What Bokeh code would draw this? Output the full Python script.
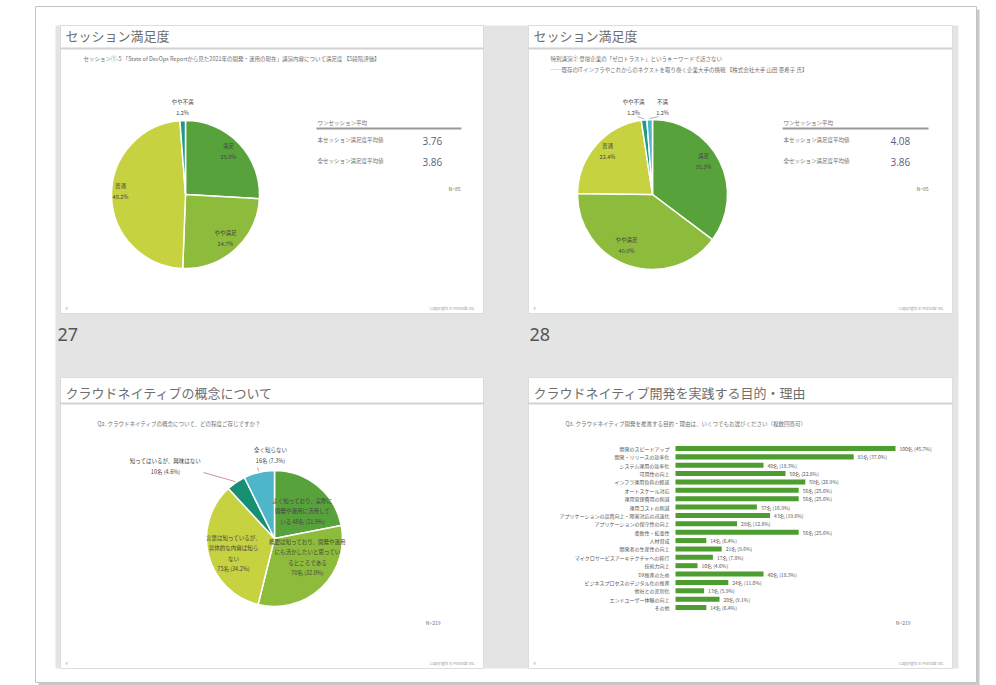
import math
from bokeh.plotting import figure
from bokeh.models import Range1d
from bokeh.core.properties import value
from bokeh.embed import file_html
from bokeh.resources import INLINE

# ---------------- data ----------------
s27_title = "セッション満足度"
s27_sub = ["セッション①-5 「State of DevOps Reportから見た2021年の開発・運用の現在」講演内容について満足度 【5段階評価】"]
s27_labels = ["満足", "やや満足", "普通", "やや不満"]
s27_pct = [25.9, 24.7, 48.2, 1.2]
s27_avg_labels = ["本セッション満足度平均値", "全セッション満足度平均値"]
s27_avg = ["3.76", "3.86"]
s27_n = 85

s28_title = "セッション満足度"
s28_sub = ["特別講演② 登壇企業の「ゼロトラスト」というキーワードで話さない",
           "──既存のITインフラやこれからのネクストを取り巻く企業大手の挑戦 【株式会社大手 山田 亜希子 氏】"]
s28_labels = ["満足", "やや満足", "普通", "やや不満", "不満"]
s28_pct = [35.3, 40.0, 22.4, 1.2, 1.2]
s28_avg_labels = ["本セッション満足度平均値", "全セッション満足度平均値"]
s28_avg = ["4.08", "3.86"]
s28_n = 85

c_title = "クラウドネイティブの概念について"
c_sub = ["Q2. クラウドネイティブの概念について、どの程度ご存じですか？"]
c_labels = ["よく知っており、実際に\n開発や運用に活用して\nいる",
            "概要は知っており、開発や運用\nにも活かしたいと思ってい\nるところである",
            "言葉は知っているが、\n具体的な内容は知ら\nない",
            "知ってはいるが、興味はない",
            "全く知らない"]
c_counts = [48, 70, 75, 10, 16]
c_pct = [21.9, 32.0, 34.2, 4.6, 7.3]
c_n = 219

r_title = "クラウドネイティブ開発を実践する目的・理由"
r_sub = ["Q3. クラウドネイティブ開発を推進する目的・理由は、いくつでもお選びください（複数回答可）"]
r_labels = ["開発のスピードアップ", "開発・リリースの効率化", "システム運用の効率化", "可用性の向上",
            "インフラ運用負荷の軽減", "オートスケール対応", "運用管理費用の削減", "運用コストの削減",
            "アプリケーションの品質向上・障害対応の迅速化", "アプリケーションの保守性の向上",
            "柔軟性・拡張性", "人材育成", "開発者の生産性の向上", "マイクロサービスアーキテクチャへの移行",
            "技術力向上", "DX推進のため", "ビジネスプロセスのデジタル化の推進", "他社との差別化",
            "エンドユーザー体験の向上", "その他"]
r_counts = [100, 81, 40, 50, 59, 56, 56, 37, 43, 28, 56, 14, 21, 17, 10, 40, 24, 13, 20, 14]
r_pct = [45.7, 37.0, 18.3, 22.8, 26.9, 25.6, 25.6, 16.9, 19.6, 12.8, 25.6, 6.4, 9.6, 7.8, 4.6, 18.3, 11.0, 5.9, 9.1, 6.4]
r_n = 219

# ---------------- style ----------------
JP = value("Noto Sans CJK JP")
DG, MG, YG, TE, LB = "#58a23c", "#8dbb3b", "#c6d23f", "#1f9a84", "#4fb5c8"
BAR = "#4d9d30"
GRAY_BG = "#e4e4e4"
TITLE_C = "#6e6e6e"
SMALL_C = "#707070"

W, H = 996, 685
p = figure(width=W, height=H, x_range=Range1d(0, W), y_range=Range1d(0, H),
           output_backend="svg", toolbar_location=None, min_border=0,
           x_axis_location=None, y_axis_location=None)
p.grid.visible = False
p.outline_line_color = None
p.background_fill_color = "white"
p.border_fill_color = "white"


def Y(py):
    return H - py


def box(l, r, t, b, fill, line=None, lw=1, alpha=1.0):
    p.quad(left=[l], right=[r], top=[Y(t)], bottom=[Y(b)], fill_color=fill,
           line_color=line, line_width=lw, fill_alpha=alpha)


def txt(x, y, s, size="6px", color=SMALL_C, align="left", font=JP, style="normal", lh=1.2):
    p.text(x=[x], y=[Y(y)], text=[s], text_font=font, text_font_size=size,
           text_color=color, text_align=align, text_baseline="middle",
           text_font_style=style, text_line_height=lh)


def seg(x0, y0, x1, y1, color="#999999", w=1):
    p.segment(x0=[x0], y0=[Y(y0)], x1=[x1], y1=[Y(y1)], line_color=color, line_width=w)


# outer frame with shadow
box(38, 979, 9, 685, "#c8c8c8", None)
box(35, 976, 6, 682, "white", "#c4c4c4", 1)
# gray sorter background
box(55, 958, 25, 668, GRAY_BG, None)

slides = {"tl": (60, 483, 25, 313), "tr": (528, 952, 25, 313),
          "bl": (60, 483, 377, 668), "br": (528, 952, 377, 668)}
sep_y = {"tl": 48, "tr": 48, "bl": 403, "br": 403}
for k, (l, r, t, b) in slides.items():
    box(l, r, t, b, "white", "#dddddd", 1)
    seg(l, sep_y[k], r, sep_y[k], "#d2d2d2", 2)

# slide titles
txt(65, 35, s27_title, "13px", TITLE_C)
txt(533, 35, s28_title, "13px", TITLE_C)
txt(65, 392, c_title, "13px", TITLE_C)
txt(533, 392, r_title, "13px", TITLE_C)

# subtitles
txt(83, 58, s27_sub[0], "5.5px", SMALL_C)
txt(550, 58, s28_sub[0], "5.5px", SMALL_C)
txt(550, 69, s28_sub[1], "5.5px", SMALL_C)
txt(97, 423, c_sub[0], "5.5px", SMALL_C)
txt(565, 423, r_sub[0], "5.5px", SMALL_C)

# slide numbers under the top row
txt(57, 334, "27", "18px", "#555555", font=value("Noto Sans"))
txt(529, 334, "28", "18px", "#555555", font=value("Noto Sans"))

# footers
for k, (l, r, t, b) in slides.items():
    txt(l + 5, b - 6, "#", "4px", "#999999")
    txt(r - 8, b - 6, "Copyright © Prelude Inc.", "4px", "#999999", align="right")


def pie(cx, cy, r, vals, colors):
    tot = float(sum(vals))
    starts, ends, mids = [], [], []
    acc = 0.0
    for v in vals:
        a0 = math.pi / 2 - 2 * math.pi * acc / tot
        acc += v
        a1 = math.pi / 2 - 2 * math.pi * acc / tot
        starts.append(a0)
        ends.append(a1)
        mids.append((a0 + a1) / 2)
    p.wedge(x=cx, y=Y(cy), radius=r, start_angle=starts, end_angle=ends,
            direction="clock", fill_color=colors, line_color="white", line_width=1.5)
    return mids


def edge(cx, cy, r, ang):
    return cx + r * math.cos(ang), cy - r * math.sin(ang)


# ---- slide 27 pie ----
cx, cy, R = 185, 194, 74
m = pie(cx, cy, R, s27_pct, [DG, MG, YG, TE])
off27 = [(43, -43), (40, 44), (-65, -3), (-3, -87)]
for lab, v, (dx, dy) in zip(s27_labels, s27_pct, off27):
    txt(cx + dx, cy + dy, f"{lab}\n{v:.1f}%", "5.5px", "#444444", align="center", lh=1.45)

# side table 27
txt(317, 122, "ワンセッション平均", "5.5px", SMALL_C)
seg(316, 128, 461, 128, "#9a9a9a", 2)
for i, (lab, v) in enumerate(zip(s27_avg_labels, s27_avg)):
    txt(317, 139 + 21 * i, lab, "5.5px", SMALL_C)
    txt(422, 140 + 21 * i, v, "10px", "#56627a", font=value("Open Sans"))
txt(460, 188, f"N={s27_n}", "5px", SMALL_C, align="right")

# ---- slide 28 pie ----
cx, cy, R = 652, 194, 75
m = pie(cx, cy, R, s28_pct, [DG, MG, YG, TE, LB])
off28 = [(51, -33), (-26, 51), (-45, -43), (-19, -87), (10, -87)]
for i, (lab, v, (dx, dy)) in enumerate(zip(s28_labels, s28_pct, off28)):
    txt(cx + dx, cy + dy, f"{lab}\n{v:.1f}%", "5.5px", "#444444", align="center", lh=1.45)
    if i >= 3:
        ex, ey = edge(cx, cy, R + 1, m[i])
        seg(cx + dx + (4 if i == 3 else -4), cy + dy + 9, ex, ey, "#888888", 0.7)

txt(783, 122, "ワンセッション平均", "5.5px", SMALL_C)
seg(782, 128, 928, 128, "#9a9a9a", 2)
for i, (lab, v) in enumerate(zip(s28_avg_labels, s28_avg)):
    txt(783, 139 + 21 * i, lab, "5.5px", SMALL_C)
    txt(890, 140 + 21 * i, v, "10px", "#56627a", font=value("Open Sans"))
txt(928, 188, f"N={s28_n}", "5px", SMALL_C, align="right")

# ---- concept pie ----
cx, cy, R = 274, 538, 68
m = pie(cx, cy, R, c_counts, [DG, MG, YG, "#168f72", LB])
offc = [(28, -27), (33, 19), (-41, 15), (-109, -72), (-4, -83)]
for i, (lab, n, v, (dx, dy)) in enumerate(zip(c_labels, c_counts, c_pct, offc)):
    if i == 0:
        s = f"{lab} {n}名 ({v:.1f}%)"
    else:
        s = f"{lab}\n{n}名 ({v:.1f}%)"
    txt(cx + dx, cy + dy, s, "5.5px", "#444444", align="center", lh=1.3)
ex, ey = edge(cx, cy, R + 1, m[3])
seg(cx - 71, cy - 66, ex, ey, "#c06070", 0.7)
ex, ey = edge(cx, cy, R + 1, m[4])
seg(cx - 17, cy - 71, ex, ey, "#888888", 0.7)
txt(440, 622, f"N={c_n}", "5px", SMALL_C, align="right")

# ---- reasons bar chart (own scales) ----
x0_px, px_per = 675, 2.2
top_px, step = 448, 8.37
nb = len(r_counts)
p.extra_x_ranges = {"bx": Range1d((0 - x0_px) / px_per, (W - x0_px) / px_per)}
p.extra_y_ranges = {"by": Range1d((nb - 1) + (H - (top_px + step * (nb - 1))) / step,
                                  -top_px / step)}
idx = list(range(nb))
p.hbar(y=idx, left=0, right=r_counts, height=0.6, fill_color=BAR, line_color=None,
       x_range_name="bx", y_range_name="by")
p.text(x=[0] * nb, y=idx, text=r_labels, x_offset=-6, text_align="right",
       text_baseline="middle", text_font=JP, text_font_size="5px", text_color="#555555",
       x_range_name="bx", y_range_name="by")
p.text(x=r_counts, y=idx, text=[f"{n}名 ({v:.1f}%)" for n, v in zip(r_counts, r_pct)],
       x_offset=4, text_align="left", text_baseline="middle", text_font=JP,
       text_font_size="5px", text_color="#555555", x_range_name="bx", y_range_name="by")
txt(910, 622, f"N={r_n}", "5px", SMALL_C, align="right")

open("out.html", "w").write(file_html(p, INLINE))
